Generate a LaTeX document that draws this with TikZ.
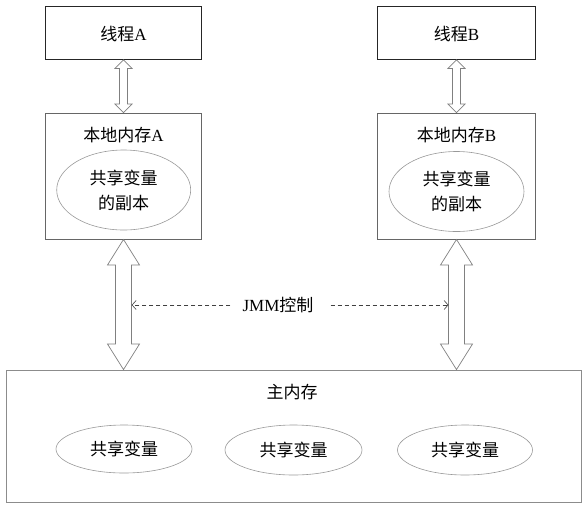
\documentclass[tikz,border=0pt]{standalone}
\usepackage{fontspec}
\setmainfont{Liberation Serif}
\newfontfamily\cjk{Noto Sans CJK SC}
\usetikzlibrary{calc,arrows.meta,shapes.geometric}
\newcommand{\hollowdbl}[5]{%
  \draw[arrowline] let \p1=(#1), \p2=(#2) in
    (\x1,\y1) -- (\x1+#3pt,\y1-#5pt) -- (\x1+#4pt,\y1-#5pt) -- (\x1+#4pt,\y2+#5pt)
    -- (\x1+#3pt,\y2+#5pt) -- (\x1,\y2) -- (\x1-#3pt,\y2+#5pt) -- (\x1-#4pt,\y2+#5pt)
    -- (\x1-#4pt,\y1-#5pt) -- (\x1-#3pt,\y1-#5pt) -- cycle;}
\begin{document}
\begin{tikzpicture}[x=1pt,y=-1pt,
  threadbox/.style={rectangle, draw=black!85, line width=0.9pt, inner sep=0pt, minimum height=53.5pt},
  localbox/.style={rectangle, draw=black!60, line width=0.9pt, inner sep=0pt, minimum height=126pt},
  mainbox/.style={rectangle, draw=black!45, line width=0.9pt, inner sep=0pt, minimum width=575.7pt, minimum height=132pt},
  var/.style={ellipse, draw=black!40, line width=0.6pt, inner sep=0pt, align=center,
              font=\fontsize{17}{25}\selectfont\cjk},
  lbl/.style={inner sep=0pt, font=\fontsize{17}{20}\selectfont},
  arrowline/.style={draw=black!50, line width=0.7pt, fill=white},
  ctrl/.style={draw=black!75, line width=0.6pt, dash pattern=on 4pt off 3pt,
               -{Straight Barb[length=4pt,width=9pt]}}]
\useasboundingbox (0,0) rectangle (588,509);

% thread boxes
\node[threadbox, minimum width=155.5pt] (ta) at (123.5,32.7) {};
\node[threadbox, minimum width=158.5pt] (tb) at (456.5,32.7) {};
\node[lbl] (tat) at (123.5,34) {{\cjk 线程}A};
\node[lbl] (tbt) at (456.5,34) {{\cjk 线程}B};

% local memory boxes
\node[localbox, minimum width=155.5pt] (la) at (123.5,176) {};
\node[localbox, minimum width=158.5pt] (lb) at (456.5,176) {};
\node[lbl] (lat) at (123.5,135) {{\cjk 本地内存}A};
\node[lbl] (lbt) at (456.5,135) {{\cjk 本地内存}B};
\node[var, minimum width=134pt, minimum height=80pt] (va) at (123.7,190) {共享变量\\的副本};
\node[var, minimum width=135pt, minimum height=80pt] (vb) at (456.5,191.5) {共享变量\\的副本};

% main memory
\node[mainbox] (mm) at (293.8,436) {};
\node[lbl] (mmt) at (292,392) {\cjk 主内存};
\node[var, minimum width=136pt, minimum height=48pt] (s1) at (124,449) {共享变量};
\node[var, minimum width=137pt, minimum height=50pt] (s2) at (293.5,450) {共享变量};
\node[var, minimum width=135pt, minimum height=50pt] (s3) at (465,450) {共享变量};

% arrows
\hollowdbl{ta.south}{la.north}{8.5}{4}{8.5}
\hollowdbl{tb.south}{lb.north}{8.5}{4}{8.5}
\hollowdbl{la.south}{la.south |- mm.north}{16}{8}{25.5}
\hollowdbl{lb.south}{lb.south |- mm.north}{16}{8}{25.5}

% JMM control
\node[lbl] (jmm) at (278,305) {JMM{\cjk 控制}};
\coordinate (sal) at (131.7,305);
\coordinate (sbr) at (448.5,305);
\draw[ctrl, shorten <=12pt] (jmm.west) -- (sal);
\draw[ctrl, shorten <=17pt] (jmm.east) -- (sbr);
\end{tikzpicture}
\end{document}
